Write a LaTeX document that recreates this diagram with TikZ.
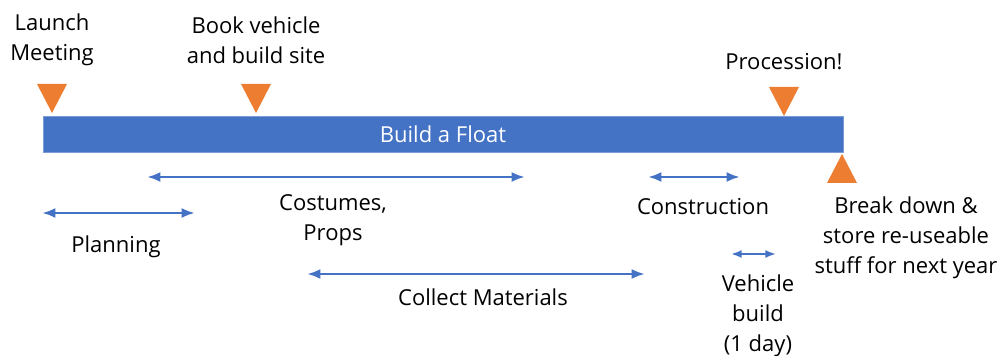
\documentclass[tikz,border=0pt]{standalone}
\usepackage{fontspec}
\setmainfont{Open Sans}
\usetikzlibrary{arrows.meta}
\definecolor{floatblue}{RGB}{68,114,196}
\definecolor{markorange}{RGB}{237,125,49}
\tikzset{
  txt/.style={inner sep=0.75pt, align=center, font=\fontsize{16.5}{22.5}\selectfont},
  span/.style={draw=floatblue, line width=2.1pt, {Latex[length=10pt,width=7.5pt]}-{Latex[length=10pt,width=7.5pt]}},
  shortspan/.style={draw=floatblue, line width=1.5pt, {Latex[length=8pt,width=6pt]}-{Latex[length=8pt,width=6pt]}},
  milestone/.style={fill=markorange, draw=none}
}

\begin{document}
\begin{tikzpicture}[x=0.75pt,y=0.75pt,yscale=-1,xscale=1]
\useasboundingbox (0,0) rectangle (1000,356);

%Shape: Rectangle [bar]
\draw [fill=floatblue, draw=floatblue!70!white, line width=0.4pt] (43,116) rectangle (843,152) ;
% Text Node
\draw (443,134) node [txt, text=white] (float) {Build a Float};

%Shape: Triangle [launch]
\draw [milestone] (37,84) -- (67,84) -- (52,113) -- cycle ;
%Shape: Triangle [book]
\draw [milestone] (241,84) -- (271,84) -- (256,113) -- cycle ;
%Shape: Triangle [procession]
\draw [milestone] (769,87) -- (799,87) -- (784,116) -- cycle ;
%Shape: Triangle [break down]
\draw [milestone] (842,154) -- (857,183) -- (827,183) -- cycle ;

% Text Node
\draw (52,40) node [txt] (launch) {Launch\\Meeting};
% Text Node
\draw (256,40) node [txt] (book) {Book vehicle\\and build site};
% Text Node
\draw (784,62) node [txt] (procession) {Procession!};
% Text Node
\draw (906,238) node [txt] (breakdown) {Break down \&\\store re-useable\\stuff for next year};

%Straight Lines [planning]
\coordinate (plan-a) at (42,213) ;
\coordinate (plan-b) at (195,213) ;
\draw [span] (plan-a) -- (plan-b) ;
%Straight Lines [costumes]
\coordinate (cost-a) at (147,177) ;
\coordinate (cost-b) at (525,177) ;
\draw [span] (cost-a) -- (cost-b) ;
%Straight Lines [materials]
\coordinate (mat-a) at (307,274) ;
\coordinate (mat-b) at (645,274) ;
\draw [span] (mat-a) -- (mat-b) ;
%Straight Lines [construction]
\coordinate (cons-a) at (648,177) ;
\coordinate (cons-b) at (740,177) ;
\draw [span] (cons-a) -- (cons-b) ;
%Straight Lines [vehicle]
\coordinate (veh-a) at (731,254) ;
\coordinate (veh-b) at (776,254) ;
\draw [shortspan] (veh-a) -- (veh-b) ;

% Text Node
\draw (116,247) node [txt] (planning) {Planning};
% Text Node
\draw (333,220) node [txt] (costumes) {Costumes,\\Props};
% Text Node
\draw (483,297) node [txt] (materials) {Collect Materials};
% Text Node
\draw (703,207) node [txt] (construction) {Construction};
% Text Node
\draw (758,316) node [txt] (vehicle) {Vehicle\\build\\(1 day)};

\end{tikzpicture}
\end{document}
